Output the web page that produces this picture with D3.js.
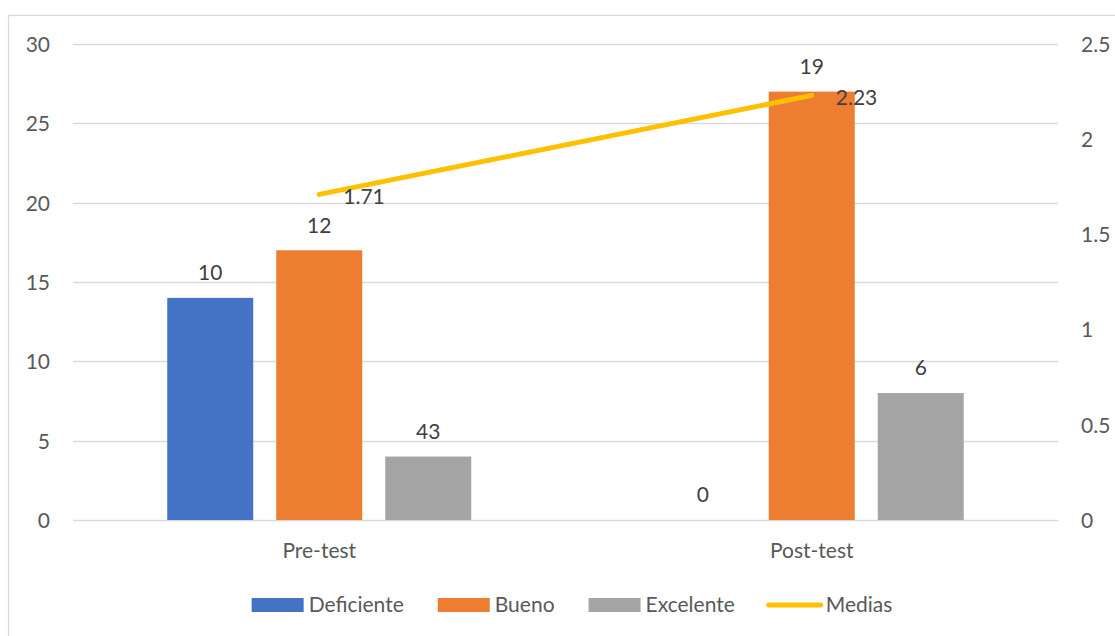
<!DOCTYPE html>
<html>
<head>
<meta charset="utf-8">
<script src="https://cdn.jsdelivr.net/npm/d3@7"></script>
<style>
  html, body { margin: 0; padding: 0; background: #fff; }
  svg { display: block; }
  text { font-family: Lato, "Open Sans", sans-serif; }
</style>
</head>
<body>
<svg id="chart" width="1115" height="636"></svg>
<script>
// ---- data ----
const categories = ["Pre-test", "Post-test"];
const seriesNames = ["Deficiente", "Bueno", "Excelente"];
const deficiente = [14, 0];
const bueno = [17, 27];
const excelente = [4, 8];
// data labels as shown in the original chart
const deficienteLabels = ["10", "0"];
const buenoLabels = ["12", "19"];
const excelenteLabels = ["43", "6"];
const medias = [1.71, 2.23];
const mediasLabels = ["1.71", "2.23"];
const leftTicks = [0, 5, 10, 15, 20, 25, 30];
const rightTicks = [0, 0.5, 1, 1.5, 2, 2.5];
const rightTickLabels = ["0", "0.5", "1", "1.5", "2", "2.5"];
const lineName = "Medias";

const colors = { Deficiente: "#4472C4", Bueno: "#ED7D31", Excelente: "#A5A5A5", Medias: "#FFC000" };
const FS = 21;

const svg = d3.select("#chart");
const plot = { left: 73, right: 1058, top: 44, bottom: 520 };

// chart frame
svg.append("rect")
  .attr("x", 8.5).attr("y", 15.5)
  .attr("width", 1200).attr("height", 700)
  .attr("fill", "none").attr("stroke", "#D9D9D9").attr("stroke-width", 1.3);

const x = d3.scaleBand().domain(categories).range([plot.left, plot.right]).padding(0);
const bw = x.bandwidth();
const groupW = 304;
const xs = d3.scaleBand().domain(seriesNames)
  .range([bw / 2 - groupW / 2, bw / 2 + groupW / 2])
  .paddingInner(23 / 109).paddingOuter(0);
const y = d3.scaleLinear().domain([0, 30]).range([plot.bottom, plot.top]);
const y2 = d3.scaleLinear().domain([0, 2.5]).range([plot.bottom, plot.top]);

// gridlines
svg.append("g").selectAll("line").data(leftTicks).join("line")
  .attr("x1", plot.left).attr("x2", plot.right)
  .attr("y1", d => Math.round(y(d)) + 0.5).attr("y2", d => Math.round(y(d)) + 0.5)
  .attr("stroke", "#D9D9D9").attr("stroke-width", 1.3);

// left axis
const leftAxis = d3.axisLeft(y).tickValues(leftTicks).tickSize(0).tickPadding(0);
const gL = svg.append("g").attr("transform", "translate(50,0)").call(leftAxis);
gL.select(".domain").remove();
gL.selectAll("text").attr("font-size", FS).attr("fill", "#595959")
  .attr("font-family", "Lato, sans-serif").attr("dy", "0.35em");

// right axis
const rightAxis = d3.axisRight(y2).tickValues(rightTicks).tickSize(0).tickPadding(0)
  .tickFormat((d, i) => rightTickLabels[i]);
const gR = svg.append("g").attr("transform", "translate(1081,0)").call(rightAxis);
gR.select(".domain").remove();
gR.selectAll("text").attr("font-size", FS).attr("fill", "#595959")
  .attr("font-family", "Lato, sans-serif").attr("dy", "0.35em");

// category axis labels
const xAxis = d3.axisBottom(x).tickSize(0).tickPadding(0);
const gX = svg.append("g").attr("transform", `translate(0,${plot.bottom})`).call(xAxis);
gX.select(".domain").remove();
gX.selectAll("text").attr("font-size", FS).attr("fill", "#595959")
  .attr("font-family", "Lato, sans-serif").attr("dy", "0").attr("y", 38);

// bars
const seriesData = [
  { name: "Deficiente", values: deficiente, labels: deficienteLabels },
  { name: "Bueno", values: bueno, labels: buenoLabels },
  { name: "Excelente", values: excelente, labels: excelenteLabels }
];
const flat = [];
seriesData.forEach(s => categories.forEach((c, i) =>
  flat.push({ series: s.name, cat: c, value: s.values[i], label: s.labels[i] })));

svg.append("g").selectAll("rect").data(flat).join("rect")
  .attr("x", d => x(d.cat) + xs(d.series))
  .attr("width", xs.bandwidth())
  .attr("y", d => y(d.value))
  .attr("height", d => y(0) - y(d.value))
  .attr("fill", d => colors[d.series]);

svg.append("g").selectAll("text").data(flat).join("text")
  .attr("x", d => x(d.cat) + xs(d.series) + xs.bandwidth() / 2)
  .attr("y", d => y(d.value) - 25)
  .attr("dy", "0.35em")
  .attr("text-anchor", "middle")
  .attr("font-size", FS).attr("fill", "#404040")
  .text(d => d.label);

// line
const linePts = categories.map((c, i) => ({ cat: c, v: medias[i], label: mediasLabels[i] }));
svg.append("path").datum(linePts)
  .attr("d", d3.line().x(d => x(d.cat) + bw / 2).y(d => y2(d.v)))
  .attr("fill", "none").attr("stroke", colors.Medias)
  .attr("stroke-width", 5).attr("stroke-linecap", "round");

svg.append("g").selectAll("text").data(linePts).join("text")
  .attr("x", d => x(d.cat) + bw / 2 + 24)
  .attr("y", d => y2(d.v) + 2)
  .attr("dy", "0.35em")
  .attr("font-size", FS).attr("fill", "#404040")
  .text(d => d.label);

// legend
const legendItems = [...seriesNames, lineName];
const legend = svg.append("g");
const items = legend.selectAll("g").data(legendItems).join("g");
items.each(function (d) {
  const g = d3.select(this);
  if (d === lineName) {
    g.append("line").attr("x1", 0).attr("x2", 52).attr("y1", 0).attr("y2", 0)
      .attr("stroke", colors[d]).attr("stroke-width", 5).attr("stroke-linecap", "round");
  } else {
    g.append("rect").attr("x", 0).attr("y", -7).attr("width", 52).attr("height", 14)
      .attr("fill", colors[d]);
  }
  g.append("text").attr("x", 57).attr("dy", "0.35em")
    .attr("font-size", FS).attr("fill", "#595959").text(d);
});
const widths = [];
items.each(function () {
  widths.push(57 + this.querySelector("text").getComputedTextLength());
});
const gap = 34;
const total = d3.sum(widths) + gap * (widths.length - 1);
const startX = 572 - total / 2;
items.attr("transform", (d, i) => {
  const tx = startX + d3.sum(widths.slice(0, i)) + gap * i;
  return `translate(${tx},605)`;
});
</script>
</body>
</html>
